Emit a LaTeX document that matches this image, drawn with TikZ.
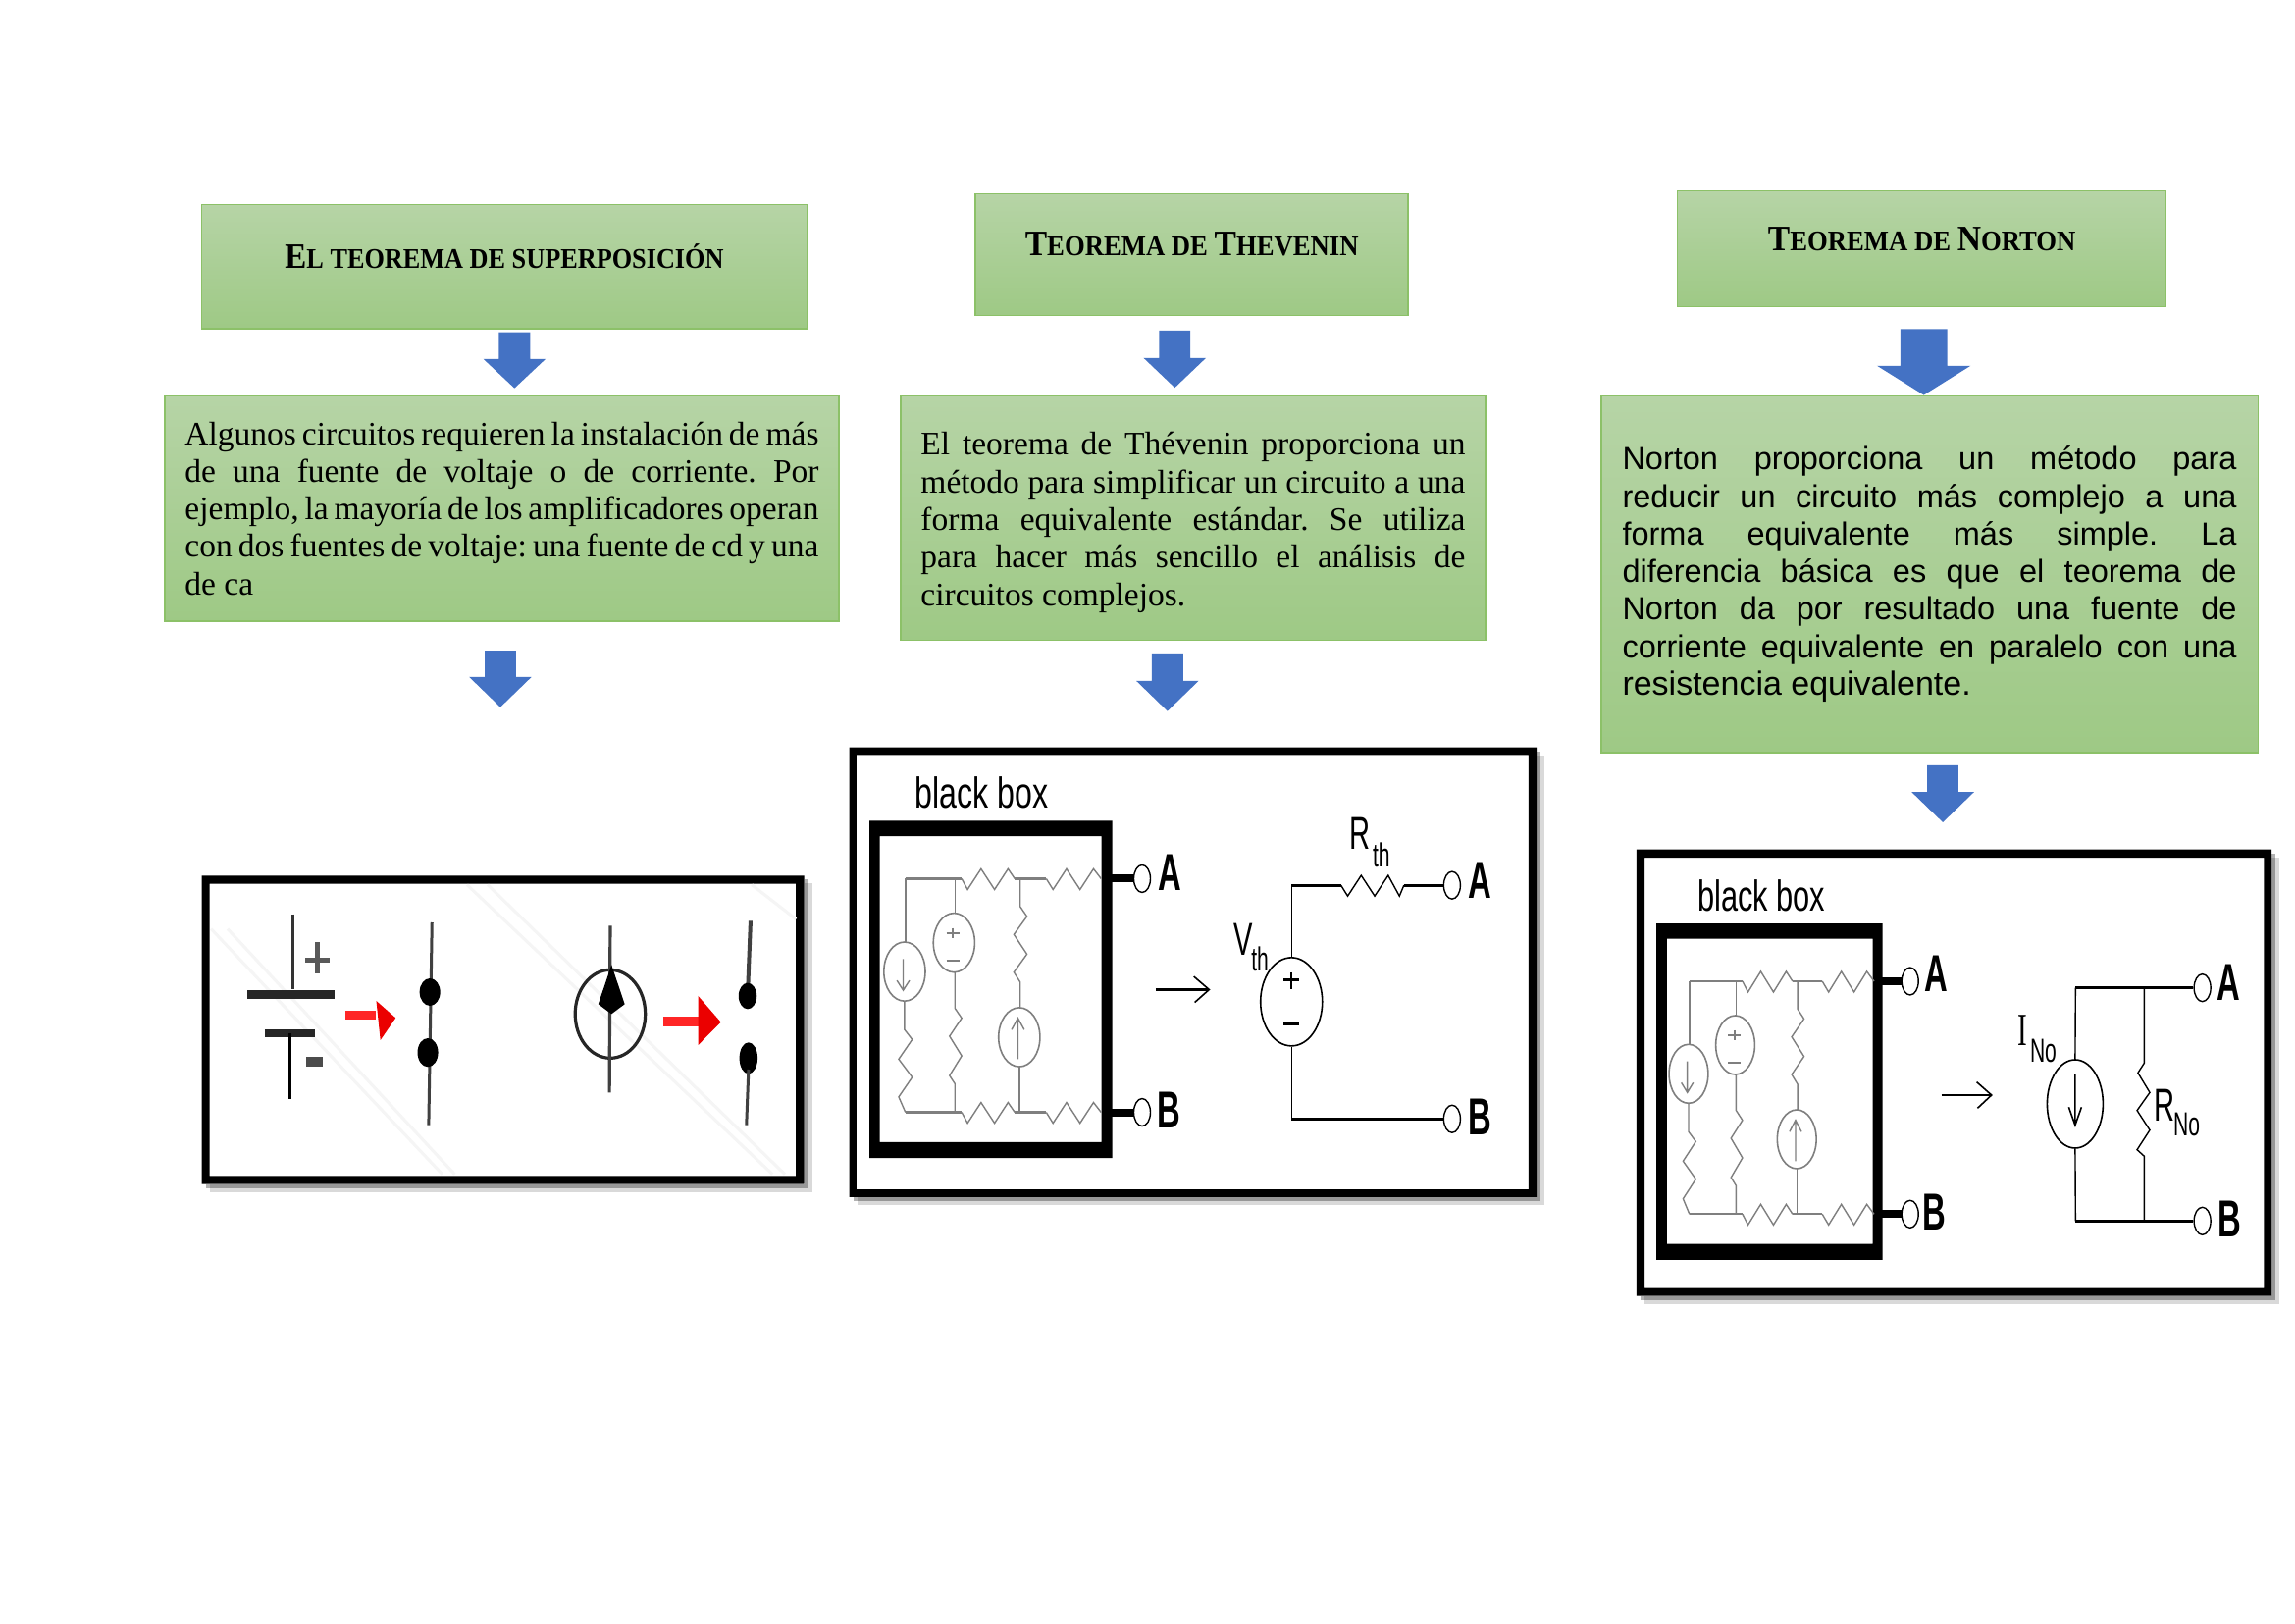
\documentclass[tikz,border=0pt]{standalone}
\usepackage{fontspec}
\usepackage{graphicx}
\setmainfont{Liberation Serif}
\newfontfamily\arialf{Liberation Sans}
\usetikzlibrary{shapes.geometric}
\definecolor{gtop}{HTML}{B6D4A6}
\definecolor{gbot}{HTML}{9EC985}
\definecolor{gedge}{HTML}{8CC168}
\definecolor{bluea}{HTML}{4472C4}
\definecolor{wireg}{HTML}{7F7F7F}
\tikzset{
  hdrbox/.style={draw=gedge,line width=1.5pt,top color=gtop,bottom color=gbot,anchor=north west,inner sep=0pt},
  hdrtext/.style={inner sep=0pt,font=\bfseries},
  bodybox/.style={draw=gedge,line width=1.5pt,top color=gtop,bottom color=gbot,anchor=north west,inner sep=0pt,align=left},
  gw/.style={draw=wireg,line width=1.4pt,line join=miter},
  gsrc/.style={draw=wireg,line width=1.6pt},
  kw/.style={draw=black,line width=1.4pt},
  kwt/.style={draw=black,line width=3.2pt},
  termc/.style={draw=black,line width=1.4pt,fill=white,ellipse,minimum width=17pt,minimum height=28pt,inner sep=0pt},
  lbl/.style={inner sep=0pt,font=\arialf\bfseries\fontsize{53}{53}\selectfont},
  lblb/.style={inner sep=0pt,font=\arialf\bfseries\fontsize{53}{53}\selectfont},
  blk/.style={inner sep=0pt,font=\arialf\fontsize{44}{44}\selectfont},
  sym/.style={inner sep=0pt,font=\arialf\fontsize{47}{47}\selectfont},
  subs/.style={inner sep=0pt,font=\arialf\fontsize{34}{34}\selectfont},
  srcell/.style={draw=black,line width=1.6pt,ellipse,inner sep=0pt},
  redarrow/.style={fill=red!92!black,draw=none}
}
\newcommand{\nar}[1]{\scalebox{.62}[1]{#1}}
\newcommand{\jl}[1]{\hbox to \linewidth{\spaceskip=.22em plus 1fil minus .12em #1}}
\newcommand{\nl}[1]{\hbox{#1}}
\newcommand{\hdrtxt}[2]{\fontsize{36.5}{36.5}\selectfont #1\fontsize{29}{29}\selectfont #2}
\newcommand{\blockarrow}[6]{%
  \fill[bluea] (#1-#5,#2) -- (#1+#5,#2) -- (#1+#5,#3) -- (#1+#6,#3) -- (#1,#4) -- (#1-#6,#3) -- (#1-#5,#3) -- cycle;}
\newcommand{\frameshadow}[8]{%
  \fill[black,opacity=.15,xshift=8pt,yshift=-8pt] (#1,#2) rectangle (#3,#4);
  \fill[black,opacity=.3,xshift=4pt,yshift=-4pt] (#1,#2) rectangle (#3,#4);
  \fill[white] (#1,#2) rectangle (#3,#4);
  \fill[black,even odd rule] (#1,#2) rectangle (#3,#4) (#5,#6) rectangle (#7,#8);}
% gray inner circuit, in zoom units
\newcommand{\innercircuit}{%
  \draw[gw,line width=2.2pt] (137,435) -- (262,435);
  \draw[gw] (262,435) -- (275,468) -- (305,405) -- (335,468) -- (365,405) -- (380,435);
  \draw[gw,line width=2.2pt] (380,435) -- (450,435);
  \draw[gw] (450,435) -- (465,468) -- (495,405) -- (525,468) -- (555,405) -- (572,435);
  \draw[gw] (137,435) -- (137,628);
  \draw[gsrc] (135,718) ellipse [x radius=46,y radius=90];
  \draw[gw] (132,680) -- (132,775) (118,745) -- (132,775) -- (146,745);
  \draw[gw] (135,808) -- (135,895) -- (152,925) -- (122,985) -- (152,1040) -- (122,1100) -- (137,1147);
  \draw[gw,line width=2.2pt] (137,1147) -- (262,1147);
  \draw[gw] (262,1147) -- (275,1180) -- (305,1117) -- (335,1180) -- (365,1117) -- (380,1147);
  \draw[gw,line width=2.2pt] (380,1147) -- (450,1147);
  \draw[gw] (450,1147) -- (465,1180) -- (495,1117) -- (525,1180) -- (555,1117) -- (572,1147);
  \draw[gw] (247,435) -- (247,540);
  \draw[gsrc] (245,630) ellipse [x radius=46,y radius=90];
  \draw[gw,line width=2pt] (243,585) -- (243,615) (228,600) -- (258,600) (228,685) -- (258,685);
  \draw[gw] (247,720) -- (247,830) -- (262,860) -- (235,915) -- (262,975) -- (235,1035) -- (247,1060) -- (247,1147);
  \draw[gw] (392,435) -- (392,520) -- (407,550) -- (378,605) -- (407,665) -- (378,720) -- (392,750) -- (392,830);
  \draw[gsrc] (390,918) ellipse [x radius=46,y radius=90];
  \draw[gw] (387,985) -- (387,860) (373,895) -- (387,860) -- (401,895);
  \draw[gw] (390,1008) -- (390,1147);
}
\frenchspacing
\begin{document}
\begin{tikzpicture}[x=1pt,y=-1pt]
\useasboundingbox (0,0) rectangle (2339,1654);
\fill[white] (0,0) rectangle (2339,1654);
% headers
\node[hdrbox,minimum width=617pt,minimum height=126.7pt] (h1) at (204.8,207.5) {};
\node[hdrbox,minimum width=441.3pt,minimum height=123.8pt] (h2) at (993,196.8) {};
\node[hdrbox,minimum width=498pt,minimum height=117.8pt] (h3) at (1708.7,193.8) {};
\node[hdrtext] (h1t) at (514,261) {\scalebox{.905}[1]{\hdrtxt{E}{L TEOREMA DE SUPERPOSICIÓN}}};
\node[hdrtext] (h2t) at (1214.7,248.5) {\scalebox{.92}[1]{\hdrtxt{T}{EOREMA DE }\hdrtxt{T}{HEVENIN}}};
\node[hdrtext] (h3t) at (1958.7,243.5) {\scalebox{.92}[1]{\hdrtxt{T}{EOREMA DE }\hdrtxt{N}{ORTON}}};
% bodies
\node[bodybox,minimum width=687.4pt,minimum height=229.6pt] (b1) at (167,402.6) {%
  \parbox{646pt}{\fontsize{33.5}{38.3}\selectfont
  \jl{Algunos circuitos requieren la instalación de más}
  \jl{de una fuente de voltaje o de corriente. Por}
  \jl{ejemplo, la mayoría de los amplificadores operan}
  \jl{con dos fuentes de voltaje: una fuente de cd y una}
  \nl{de ca}}};
\node[bodybox,minimum width=596.4pt,minimum height=249pt] (b2) at (917,402.6) {%
  \parbox{555pt}{\fontsize{33.5}{38.3}\selectfont
  \vspace*{9pt}
  \jl{El teorema de Thévenin proporciona un}
  \jl{método para simplificar un circuito a una}
  \jl{forma equivalente estándar. Se utiliza}
  \jl{para hacer más sencillo el análisis de}
  \nl{circuitos complejos.}}};
\node[bodybox,minimum width=669.5pt,minimum height=363.8pt] (b3) at (1631,402.6) {%
  \parbox{626pt}{\arialf\fontsize{32.5}{38.3}\selectfont
  \jl{Norton proporciona un método para}
  \jl{reducir un circuito más complejo a una}
  \jl{forma equivalente más simple. La}
  \jl{diferencia básica es que el teorema de}
  \jl{Norton da por resultado una fuente de}
  \jl{corriente equivalente en paralelo con una}
  \nl{\fontsize{34}{42.5}\selectfont resistencia equivalente.}}};
% block arrows
\begin{scope}[x=.994pt,y=-.994pt,xshift=1.5pt]
\blockarrow{526}{340.6}{368}{398}{16}{32}
\blockarrow{511.5}{667}{694}{725}{16}{32}
\blockarrow{1203}{339}{367}{397.5}{16}{32}
\blockarrow{1195.5}{670}{698}{729}{16}{32}
\blockarrow{1971}{337.5}{375}{405}{24}{48}
\blockarrow{1990.5}{784.5}{812}{843}{16}{32}
\end{scope}

% ---------- picture 1
\begin{scope}[shift={(190,880)},x=.4206pt,y=-.3333pt]
  \frameshadow{37}{37}{1497}{980}{56}{62}{1477}{955}
  \draw[black!4,line width=3pt] (60,200) -- (620,950) (100,200) -- (650,950) (680,65) -- (1420,950) (730,65) -- (1450,950) (1370,65) -- (1477,170);
  \draw[black!80,line width=3pt] (257,155) -- (257,385);
  \draw[black!85,line width=9pt] (148,400) -- (358,400);
  \draw[black!85,line width=8pt] (190,520) -- (312,520);
  \draw[black,line width=3pt] (252,520) -- (252,720);
  \draw[black!65,line width=5pt] (318,240) -- (318,335);
  \draw[black!65,line width=5pt] (288,295) -- (348,295);
  \fill[black!70] (290,590) rectangle (330,622);
  \draw[draw=red!85,line width=9pt] (385,465) -- (460,465);
  \fill[redarrow] (460,420) -- (507,472) -- (470,540) -- cycle;
  \draw[black!75,line width=3pt] (595,180) -- (587,800);
  \fill[black] (590,393) ellipse [x radius=25,y radius=42];
  \fill[black] (585,578) ellipse [x radius=25,y radius=44];
  \draw[black!85,line width=3.2pt] (1027,460) ellipse [x radius=85,y radius=135];
  \draw[black!75,line width=3.2pt] (1027,190) -- (1025,700);
  \fill[black] (1030,310) -- (1062,430) -- (1030,460) -- (998,430) -- cycle;
  \draw[draw=red!85,line width=10pt] (1155,483) -- (1240,483);
  \fill[redarrow] (1240,405) -- (1295,485) -- (1240,555) -- cycle;
  \draw[black!75,line width=4pt] (1367,175) -- (1360,400);
  \fill[black] (1360,405) ellipse [x radius=22,y radius=40];
  \fill[black] (1362,595) ellipse [x radius=22,y radius=48];
  \draw[black!75,line width=3pt] (1362,630) -- (1357,800);
\end{scope}

% ---------- Thevenin picture
\begin{scope}[shift={(860,750)},x=.4585pt,y=-.3344pt]
  \frameshadow{12}{35}{1540}{1405}{28}{58}{1522}{1382}
  \node[blk] (tbb) at (307,172) {\scalebox{.73}[1]{black box}};
  \fill[black,even odd rule] (57,258) rectangle (597,1286) (80,305) rectangle (573,1238);
  \innercircuit
  \node[termc] (ta1) at (663,435) {};
  \node[termc] (tb1) at (663,1147) {};
  \coordinate (tpa) at (590,435);
  \coordinate (tpb) at (590,1147);
  \draw[black,line width=8pt] (tpa) -- (ta1);
  \draw[black,line width=8pt] (tpb) -- (tb1);
  \node[lbl] (tla1) at (725,415) {\nar{A}};
  \node[lblb] (tlb1) at (722,1140) {\nar{B}};
  \coordinate (ar1s) at (693,773);
  \coordinate (ar1e) at (812,773);
  \draw[black,line width=2.2pt] (ar1s) -- (ar1e);
  \draw[black,line width=1.6pt] (778,733) -- (ar1e) -- (780,812);
  \node[termc] (ta2) at (1352,455) {};
  \node[termc] (tb2) at (1352,1167) {};
  \node[lbl] (tla2) at (1413,440) {\nar{A}};
  \node[lblb] (tlb2) at (1415,1162) {\nar{B}};
  \node[srcell,minimum width=63pt,minimum height=90pt] (vth) at (995,810) {};
  \draw[kw] (vth.north) -- (995,455);
  \draw[kwt] (995,455) -- (1105,455);
  \draw[kw] (1105,455) -- (1120,488) -- (1150,425) -- (1180,488) -- (1210,425) -- (1235,488) -- (1245,455);
  \draw[kwt] (1245,455) -- (ta2);
  \draw[kw] (vth.south) -- (995,1167);
  \draw[kwt] (995,1167) -- (tb2);
  \draw[black,line width=2.4pt] (995,720) -- (995,772) (978,743) -- (1012,743) (978,878) -- (1012,878);
  \node[sym] (vl) at (888,620) {\nar{V}};
  \node[subs] (vls) at (925,680) {\nar{th}};
  \node[sym] (rl) at (1147,297) {\nar{R}};
  \node[subs] (rls) at (1195,362) {\nar{th}};
\end{scope}

% ---------- Norton picture
\begin{scope}[shift={(1660,860)},x=.4324pt,y=-.3333pt]
  \frameshadow{18}{17}{1515}{1382}{37}{42}{1497}{1358}
  \node[blk] (nbb) at (313,157) {\scalebox{.70}[1]{black box}};
  \fill[black,even odd rule] (65,243) rectangle (598,1272) (90,290) rectangle (575,1223);
  \begin{scope}[shift={(6,-15)}]
    \innercircuit
  \end{scope}
  \node[termc] (na1) at (663,420) {};
  \node[termc] (nb1) at (663,1132) {};
  \coordinate (npa) at (590,420);
  \coordinate (npb) at (590,1132);
  \draw[black,line width=8pt] (npa) -- (na1);
  \draw[black,line width=8pt] (npb) -- (nb1);
  \node[lbl] (nla1) at (725,398) {\nar{A}};
  \node[lblb] (nlb1) at (720,1125) {\nar{B}};
  \coordinate (ar2s) at (737,768);
  \coordinate (ar2e) at (855,768);
  \draw[black,line width=2.6pt] (ar2s) -- (ar2e);
  \draw[black,line width=1.6pt] (820,728) -- (ar2e) -- (822,808);
  \node[termc] (na2) at (1352,440) {};
  \node[termc] (nb2) at (1352,1153) {};
  \node[lbl] (nla2) at (1413,425) {\nar{A}};
  \node[lblb] (nlb2) at (1415,1148) {\nar{B}};
  \node[srcell,minimum width=57pt,minimum height=90pt] (ino) at (1052,795) {};
  \draw[kw] (ino.north) -- (1053,440);
  \draw[kwt] (1053,440) -- (na2);
  \draw[kw] (ino.south) -- (1053,1153);
  \draw[kwt] (1053,1153) -- (nb2);
  \draw[kw] (1215,440) -- (1215,670) -- (1200,700) -- (1228,760) -- (1198,815) -- (1228,875) -- (1198,935) -- (1215,955) -- (1215,1153);
  \draw[black,line width=1.6pt] (1052,705) -- (1052,860) (1037,805) -- (1052,860) -- (1067,805);
  \node[sym,font=\fontsize{47}{47}\selectfont] (il) at (928,570) {\nar{I}};
  \node[subs] (ils) at (977,632) {\nar{No}};
  \node[sym] (rn) at (1263,800) {\nar{R}};
  \node[subs] (rns) at (1315,857) {\nar{No}};
\end{scope}
\end{tikzpicture}
\end{document}
